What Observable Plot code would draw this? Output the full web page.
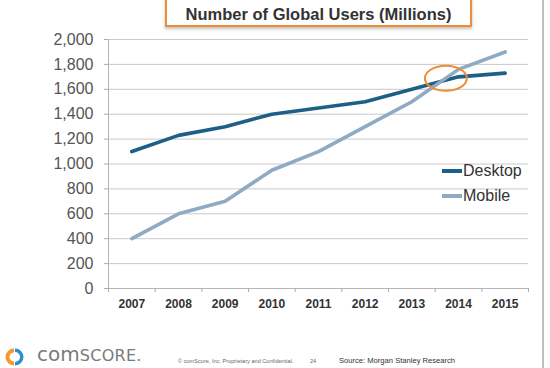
<!DOCTYPE html>
<html>
<head>
<meta charset="utf-8">
<script src="https://cdn.jsdelivr.net/npm/d3@7"></script>
<script src="https://cdn.jsdelivr.net/npm/@observablehq/plot@0.6"></script>
<style>
  html, body { margin: 0; padding: 0; background: #fff; }
  #wrap { position: relative; width: 550px; height: 368px; overflow: hidden; font-family: "Liberation Sans", Arial, sans-serif; }
  #chart { position: absolute; left: 0; top: 0; }
  #titlebox { position: absolute; left: 165px; top: -3px; width: 303px; height: 26px; border: 2px solid #ef8d35; background: #fff;
    box-shadow: 0 2px 3px rgba(0,0,0,0.25); text-align: center; font-weight: bold; font-size: 16.5px; color: #333; line-height: 30px; }
  #border { position: absolute; left: 542px; top: 0; width: 2px; height: 368px; background: #bdbdbd; }
  .leg { position: absolute; left: 442px; font-size: 16px; color: #333; display: flex; align-items: center; }
  .leg span.sw { display: inline-block; width: 20px; height: 3.5px; margin-right: 1px; }
  #logo { position: absolute; left: 4px; top: 347px; }
  #brand { position: absolute; left: 37px; top: 342px; color: #7a7a7a; font-family: "DejaVu Sans", sans-serif; white-space: nowrap; }
  #copy { position: absolute; left: 178px; top: 358px; font-size: 5.6px; color: #666; white-space: nowrap; }
  #page { position: absolute; left: 310px; top: 358px; font-size: 5.6px; color: #666; }
  #src { position: absolute; left: 339px; top: 356px; font-size: 7.6px; color: #333; white-space: nowrap; }
</style>
</head>
<body>
<div id="wrap">
  <div id="chart"></div>
  <div id="titlebox"></div>
  <div id="border"></div>
  <div class="leg" id="leg1" style="top:162px"><span class="sw"></span><span class="tx"></span></div>
  <div class="leg" id="leg2" style="top:187px"><span class="sw"></span><span class="tx"></span></div>
  <svg id="logo" width="22" height="20" viewBox="0 0 22 20">
    <path d="M10 1.5 A8.5 8.5 0 0 0 10 18.5 L10 14.5 A4.5 4.5 0 0 1 10 5.5 Z" fill="#f39a2b"/>
    <path d="M11 1.5 A8.5 8.5 0 0 1 11 18.5 L11 15 A5 5 0 0 0 11 5 Z" fill="#2b8fd0"/>
  </svg>
  <div id="brand"><span style="font-size:20px">com</span><span style="font-size:16px;letter-spacing:0.3px">SCORE.</span></div>
  <div id="copy">© comScore, Inc.  Proprietary and Confidential.</div>
  <div id="page">24</div>
  <div id="src">Source: Morgan Stanley Research</div>
</div>
<script>
const title = "Number of Global Users (Millions)";
const years = [2007, 2008, 2009, 2010, 2011, 2012, 2013, 2014, 2015];
const desktop = [1100, 1230, 1300, 1400, 1450, 1500, 1600, 1700, 1730];
const mobile = [400, 600, 700, 950, 1100, 1300, 1500, 1760, 1900];
const yTicks = [0, 200, 400, 600, 800, 1000, 1200, 1400, 1600, 1800, 2000];
const seriesNames = ["Desktop", "Mobile"];
const seriesColors = ["#1d5f86", "#8fabc3"];
const highlight = {year: 2013.74, value: 1684};

document.getElementById("titlebox").textContent = title;

const desktopData = years.map((y, i) => ({year: y, value: desktop[i]}));
const mobileData = years.map((y, i) => ({year: y, value: mobile[i]}));
const bounds = years.map(y => y - 0.5).concat([years[years.length - 1] + 0.5]);

const plot = Plot.plot({
  width: 550,
  height: 368,
  marginLeft: 108,
  marginRight: 22,
  marginTop: 39,
  marginBottom: 80,
  style: {fontFamily: "'Liberation Sans', Arial, sans-serif", background: "transparent"},
  x: {type: "linear", domain: [bounds[0], bounds[bounds.length - 1]]},
  y: {domain: [0, 2000]},
  marks: [
    Plot.gridY(yTicks, {stroke: "#c9c9c9", strokeOpacity: 1}),
    Plot.ruleY([0], {stroke: "#b5b5b5"}),
    Plot.ruleX([bounds[0]], {stroke: "#b5b5b5"}),
    Plot.axisY({ticks: yTicks, tickFormat: d3.format(","), tickSize: 4, tickPadding: 11, fontSize: 16, stroke: "#aaa", fill: "#555", label: null}),
    Plot.axisX({ticks: bounds, tickSize: 4, tickFormat: () => "", stroke: "#aaa", label: null}),
    Plot.axisX({ticks: years, tickSize: 0, tickPadding: 11, tickFormat: d => String(d), fontSize: 12, fontWeight: "bold", fill: "#333", label: null}),
    Plot.line(desktopData, {x: "year", y: "value", stroke: seriesColors[0], strokeWidth: 3.6, strokeLinejoin: "round", strokeLinecap: "round"}),
    Plot.line(mobileData, {x: "year", y: "value", stroke: seriesColors[1], strokeWidth: 3.6, strokeLinejoin: "round", strokeLinecap: "round"})
  ]
});
document.getElementById("chart").appendChild(plot);

// highlight ellipse positioned via the plot's scales
const sx = plot.scale("x"), sy = plot.scale("y");
d3.select(plot).append("ellipse")
  .attr("cx", sx.apply(highlight.year))
  .attr("cy", sy.apply(highlight.value))
  .attr("rx", 21).attr("ry", 12.5)
  .attr("fill", "none").attr("stroke", "#ef8d35").attr("stroke-width", 2);

// legend
["leg1", "leg2"].forEach((id, i) => {
  const el = document.getElementById(id);
  el.querySelector(".sw").style.background = seriesColors[i];
  el.querySelector(".tx").textContent = seriesNames[i];
});
</script>
</body>
</html>
